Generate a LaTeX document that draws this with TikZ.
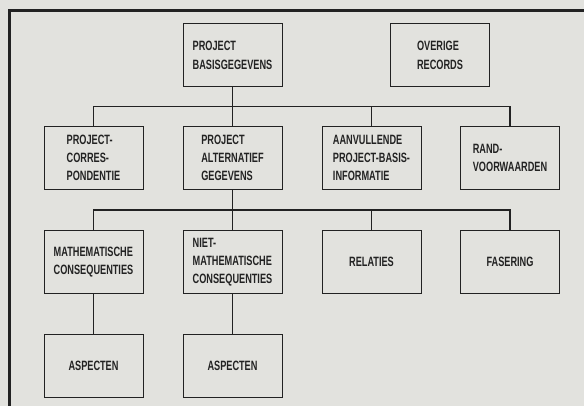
\documentclass[tikz,border=0pt]{standalone}
\usepackage{fontspec}
\newfontfamily\blokfont{Liberation Sans Bold}[FakeStretch=0.68]
\usepackage{tikz}
\usetikzlibrary{calc}
\definecolor{papier}{RGB}{226,226,222}
\definecolor{inkt}{RGB}{34,34,34}

\begin{document}
\begin{tikzpicture}[x=1pt,y=-1pt,
	blok/.style={draw=inkt,line width=1pt,minimum width=99pt,minimum height=63pt,inner sep=2pt,align=left,text=inkt,font=\fontsize{13.5}{18.3}\selectfont\blokfont},
	lijn/.style={draw=inkt,line width=1.5pt}]
	\useasboundingbox[fill=papier] (0,0) rectangle (584,406);
	\draw[draw=inkt,line width=3pt] (9.5,406) -- (9.5,10.5) -- (584,10.5);
	
	\node[blok] (basis) at (232.5,55.5) {PROJECT\\BASISGEGEVENS};
	\node[blok] (overig) at (440,55.5) {OVERIGE\\RECORDS};
	
	\node[blok] (corr) at (93.5,158) {PROJECT-\\CORRES-\\PONDENTIE};
	\node[blok] (alt) at (232.5,158) {PROJECT\\ALTERNATIEF\\GEGEVENS};
	\node[blok] (aanv) at (371.5,158) {AANVULLENDE\\PROJECT-BASIS-\\INFORMATIE};
	\node[blok] (rand) at (510,158) {RAND-\\VOORWAARDEN};
	
	\node[blok] (mat) at (93.5,262) {MATHEMATISCHE\\CONSEQUENTIES};
	\node[blok] (niet) at (232.5,262) {NIET-\\MATHEMATISCHE\\CONSEQUENTIES};
	\node[blok] (rel) at (371.5,262) {RELATIES};
	\node[blok] (fas) at (510,262) {FASERING};
	
	\node[blok] (asp1) at (93.5,366) {ASPECTEN};
	\node[blok] (asp2) at (232.5,366) {ASPECTEN};
	
	\coordinate (bus1) at ($(basis.south)!0.5!(alt.north)$);
	\coordinate (bus2) at ($(alt.south)!0.5!(niet.north)$);
	
	\draw[lijn] (basis.south) -- (alt.north);
	\draw[lijn] (corr.north) |- (bus1) -| (rand.north);
	\draw[lijn] (bus1 -| aanv.north) -- (aanv.north);
	
	\draw[lijn] (alt.south) -- (niet.north);
	\draw[lijn] (mat.north) |- (bus2) -| (fas.north);
	\draw[lijn] (bus2 -| rel.north) -- (rel.north);
	
	\draw[lijn] (mat.south) -- (asp1.north);
	\draw[lijn] (niet.south) -- (asp2.north);
\end{tikzpicture}
\end{document}
